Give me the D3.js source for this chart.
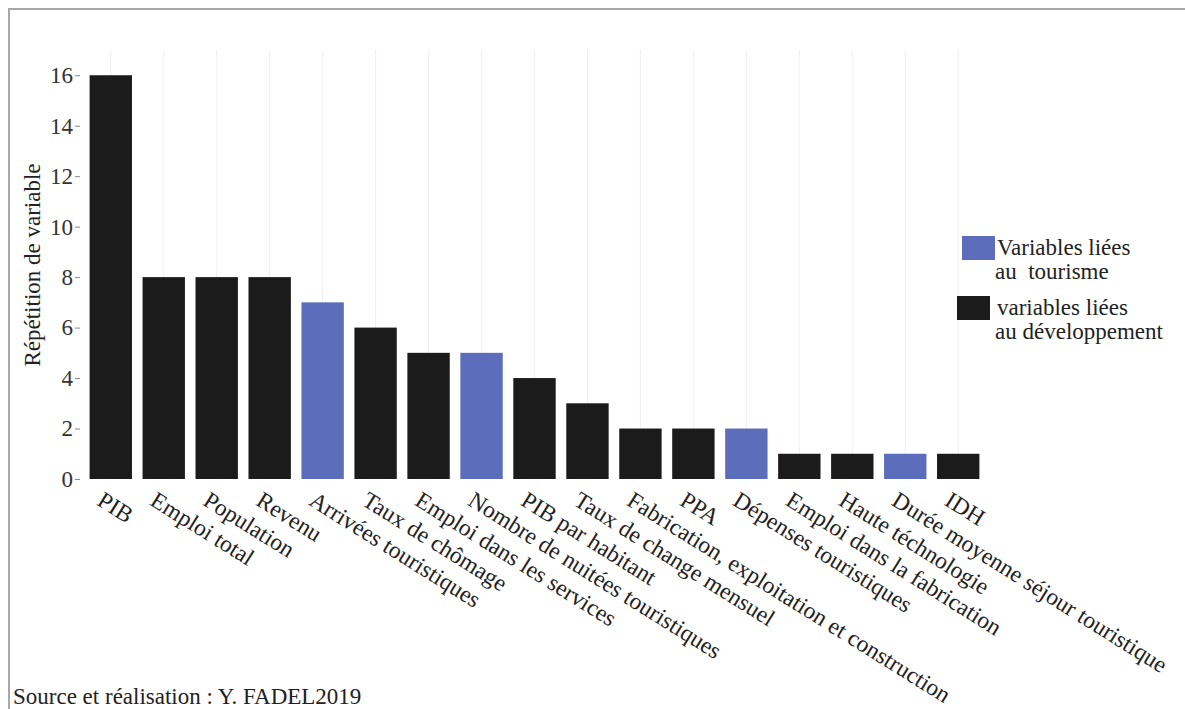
<!DOCTYPE html>
<html lang="fr">
<head>
  <meta charset="UTF-8">
  <title>Répétition de variable</title>
  <script src="https://d3js.org/d3.v7.min.js"></script>
  <style>
    body { margin: 0; background: #fff; }
    svg { display: block; }
  </style>
</head>
<body>
  <svg id="chart"></svg>
  <script>
    const variables = [
      "PIB", "Emploi total", "Population", "Revenu", "Arrivées touristiques",
      "Taux de chômage", "Emploi dans les services", "Nombre de nuitées touristiques",
      "PIB par habitant", "Taux de change mensuel", "Fabrication, exploitation et construction",
      "PPA", "Dépenses touristiques", "Emploi dans la fabrication", "Haute téchnologie",
      "Durée moyenne séjour touristique", "IDH"
    ];
    const counts = [16, 8, 8, 8, 7, 6, 5, 5, 4, 3, 2, 2, 2, 1, 1, 1, 1];
    const groups = ["dev", "dev", "dev", "dev", "tour", "dev", "dev", "tour",
      "dev", "dev", "dev", "dev", "tour", "dev", "dev", "tour", "dev"];
    const yTicks = [0, 2, 4, 6, 8, 10, 12, 14, 16];
    const legendItems = [
      { key: "tour", lines: ["Variables liées", "au  tourisme"] },
      { key: "dev", lines: ["variables liées", "au développement"] }
    ];

    const width = 1185, height = 709;
    const colors = { dev: "#1b1b1b", tour: "#5b6dbb" };
    const font = '"Liberation Serif"';

    const svg = d3.select("#chart").attr("width", width).attr("height", height);

    // frame
    svg.append("path")
      .attr("d", `M9,${height} V9 H${width}`)
      .attr("fill", "none")
      .attr("stroke", "#a8a8a8")
      .attr("stroke-width", 2);

    const x = d3.scaleBand()
      .domain(variables)
      .range([79, 990])
      .paddingInner(0.2)
      .paddingOuter(0.2);

    const y = d3.scaleLinear().domain([0, 17]).range([479, 50]);

    // faint vertical grid
    svg.append("g")
      .selectAll("line")
      .data(variables)
      .join("line")
      .attr("x1", d => x(d) + x.bandwidth() / 2)
      .attr("x2", d => x(d) + x.bandwidth() / 2)
      .attr("y1", y(17))
      .attr("y2", y(0))
      .attr("stroke", "#efefef")
      .attr("stroke-width", 1);

    // y axis
    const yAxis = svg.append("g")
      .attr("transform", "translate(80,0)")
      .call(d3.axisLeft(y).tickValues(yTicks).tickSize(5).tickPadding(2));
    yAxis.select(".domain").remove();
    yAxis.selectAll(".tick line").attr("stroke", "#888");
    yAxis.selectAll(".tick text")
      .style("font-family", font)
      .style("font-size", "23px")
      .attr("fill", "#333");

    svg.append("text")
      .attr("transform", "translate(40,265) rotate(-90)")
      .attr("text-anchor", "middle")
      .style("font-family", font)
      .style("font-size", "23px")
      .attr("fill", "#222")
      .text("Répétition de variable");

    // bars
    svg.append("g")
      .selectAll("rect")
      .data(variables)
      .join("rect")
      .attr("x", d => x(d))
      .attr("y", (d, i) => y(counts[i]))
      .attr("width", x.bandwidth())
      .attr("height", (d, i) => y(0) - y(counts[i]))
      .attr("fill", (d, i) => colors[groups[i]]);

    // x labels
    svg.append("g")
      .selectAll("text")
      .data(variables)
      .join("text")
      .attr("transform", d => `translate(${x(d) + x.bandwidth() / 2 - 6},${y(0) + 11}) rotate(32)`)
      .attr("dy", "0.72em")
      .style("font-family", font)
      .style("font-size", "23.5px")
      .attr("fill", "#222")
      .text(d => d);

    // legend
    const legend = svg.append("g");
    legendItems.forEach((item, i) => {
      const g = legend.append("g").attr("transform", `translate(${i === 0 ? 962 : 957},${236 + i * 60})`);
      g.append("rect")
        .attr("width", 33)
        .attr("height", 24)
        .attr("fill", colors[item.key]);
      g.selectAll("text")
        .data(item.lines)
        .join("text")
        .attr("x", (d, j) => (i === 0 ? 35 : 40) - j * 2)
        .attr("y", (d, j) => 19 + j * 23.5)
        .style("font-family", font)
        .style("font-size", "23px")
        .style("white-space", "pre")
        .attr("fill", "#222")
        .text(d => d);
    });

    svg.append("text")
      .attr("x", 13)
      .attr("y", 704)
      .style("font-family", font)
      .style("font-size", "23px")
      .attr("fill", "#222")
      .text("Source et réalisation : Y. FADEL2019");
  </script>
</body>
</html>
